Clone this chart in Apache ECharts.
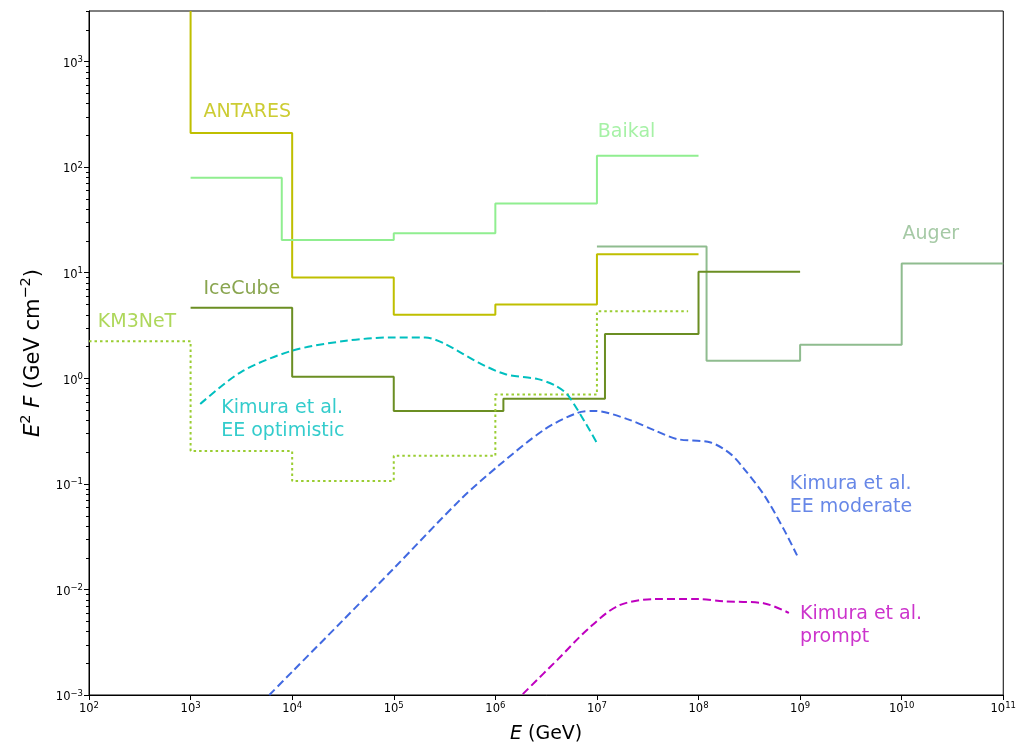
<!DOCTYPE html>
<html>
<head>
<meta charset="utf-8">
<script src="https://cdn.jsdelivr.net/npm/echarts@6/dist/echarts.min.js"></script>
<style>html,body{margin:0;padding:0;background:#fff}#c{width:1019px;height:749px}</style>
</head>
<body>
<div id="c"></div>
<script>
// ---------- data ----------
// Step-style upper limits: bin edges (GeV) and E^2 F values (GeV cm^-2)
const ANTARES_edges = [1e3, 1e4, 1e5, 1e6, 1e7, 1e8];
const ANTARES_vals  = [210, 9.0, 3.98, 5.0, 14.9];
const ANTARES_entry = 3000; // first limit runs off the top of the plot

const Baikal_edges = [1e3, 7.9e3, 1e5, 1e6, 1e7, 1e8];
const Baikal_vals  = [79, 20.3, 23.6, 45, 128];

const Auger_edges = [1e7, 1.2e8, 1e9, 1e10, 1e11];
const Auger_vals  = [17.7, 1.46, 2.07, 12.2];

const IceCube_edges = [1e3, 1e4, 1e5, 1.2e6, 1.2e7, 1e8, 1e9];
const IceCube_vals  = [4.65, 1.03, 0.49, 0.64, 2.62, 10.2];

const KM3NeT_edges = [1e2, 1e3, 1e4, 1e5, 1e6, 1e7, 7.9e7];
const KM3NeT_vals  = [2.24, 0.204, 0.106, 0.184, 0.70, 4.3];

// Model curves: log10(E/GeV) and E^2 F
const EEopt_logE = [3.095, 3.5, 4.0, 4.53, 4.98, 5.31, 5.51, 5.83, 6.10, 6.42, 6.59, 6.72, 7.01];
const EEopt_F    = [0.57, 1.15, 1.82, 2.26, 2.43, 2.43, 2.10, 1.41, 1.09, 0.98, 0.85, 0.68, 0.234];

const EEmod_logE = [3.775, 4.0, 4.5, 5.0, 5.67, 6.03, 6.49, 6.81, 6.98, 7.30, 7.57, 7.79, 8.12, 8.32, 8.45, 8.65, 8.84, 8.97];
const EEmod_F    = [0.001, 0.00166, 0.0051, 0.0158, 0.073, 0.148, 0.33, 0.47, 0.49, 0.41, 0.32, 0.265, 0.246, 0.19, 0.138, 0.077, 0.037, 0.021];

const prompt_logE = [6.27, 6.62, 6.91, 7.21, 7.57, 7.99, 8.25, 8.64, 8.89];
const prompt_F    = [0.00102, 0.0022, 0.0042, 0.0070, 0.0081, 0.0081, 0.0077, 0.0074, 0.0060];

// Annotations: text, anchor energy, anchor flux
const label_text = ['ANTARES', 'Baikal', 'Auger', 'IceCube', 'KM3NeT',
                    'Kimura et al.\nEE optimistic', 'Kimura et al.\nEE moderate', 'Kimura et al.\nprompt'];
const label_E    = [1.34e3, 1.02e7, 1.02e10, 1.34e3, 1.22e2, 2.0e3, 7.9e8, 1.0e9];
const label_F    = [331, 214, 23.2, 6.98, 3.4, 0.404, 0.0766, 0.00457];

// Axis ticks
const x_ticks = [1e2, 1e3, 1e4, 1e5, 1e6, 1e7, 1e8, 1e9, 1e10, 1e11];
const y_ticks = [1e-3, 1e-2, 1e-1, 1e0, 1e1, 1e2, 1e3];
const y_minor_mult = [2, 3, 4, 5, 6, 7, 8, 9];

// ---------- styling ----------
const C = {
  ANTARES: '#bfbf00', Baikal: '#90ee90', Auger: '#8fbc8f', IceCube: '#6b8e23',
  KM3NeT: '#9acd32', opt: '#00bfbf', mod: '#4169e1', prompt: '#bf00bf'
};
const label_colors = [C.ANTARES, C.Baikal, C.Auger, C.IceCube, C.KM3NeT, C.opt, C.mod, C.prompt];
const FONT = 'DejaVu Sans';
const Y_MAX = 3000, Y_MIN = 1e-3, X_MIN = 1e2, X_MAX = 1e11;

function steps(edges, vals, entry) {
  const pts = [];
  if (entry !== undefined) pts.push([edges[0], entry]);
  for (let i = 0; i < vals.length; i++) {
    pts.push([edges[i], vals[i]]);
    pts.push([edges[i + 1], vals[i]]);
  }
  return pts;
}
function curve(logE, F) { return logE.map((l, i) => [Math.pow(10, l), F[i]]); }

const yMinor = [];
y_ticks.forEach(t => y_minor_mult.forEach(m => { if (m * t <= Y_MAX) yMinor.push([X_MIN, m * t]); }));

function expLabel(v) {
  const e = Math.round(Math.log10(v));
  if (Math.abs(Math.log10(v) - e) > 1e-6) return '';
  return '{b|10}{s|' + String(e).replace('-', '\u2212') + '}';
}
const tickRich = {
  b: { fontFamily: FONT, fontSize: 11.5, color: '#000', lineHeight: 12, padding: [5, 0, 0, 0] },
  s: { fontFamily: FONT, fontSize: 8.5, color: '#000', lineHeight: 9, verticalAlign: 'top' }
};

function stepSeries(name, data, color, dash) {
  return {
    name, type: 'line', data, symbol: 'none', clip: true, animation: false,
    lineStyle: { color, width: 2, type: dash || 'solid' }, z: 3
  };
}
function curveSeries(name, data, color) {
  return {
    name, type: 'line', data, symbol: 'none', smooth: 0.3, clip: true, animation: false,
    lineStyle: { color, width: 2, type: [8, 4] }, z: 4
  };
}

const chart = echarts.init(document.getElementById('c'), null, { renderer: 'canvas' });
chart.setOption({
  backgroundColor: '#fff',
  animation: false,
  grid: { left: 89, right: 12, top: 11, bottom: 54, show: true, borderColor: '#000', borderWidth: 1, containLabel: false },
  xAxis: {
    type: 'log', logBase: 10, min: X_MIN, max: X_MAX,
    name: '{i|E} (GeV)', nameLocation: 'middle', nameGap: 30,
    nameTextStyle: { fontFamily: FONT, fontSize: 19, color: '#000',
      rich: { i: { fontFamily: FONT, fontSize: 19, fontStyle: 'italic', color: '#000' } } },
    axisLine: { show: true, lineStyle: { color: '#000', width: 1 } },
    axisTick: { show: true, inside: false, length: 5, lineStyle: { color: '#000' }, customValues: x_ticks },
    axisLabel: { margin: 6, formatter: expLabel, rich: tickRich, customValues: x_ticks },
    splitLine: { show: false }
  },
  yAxis: {
    type: 'log', logBase: 10, min: Y_MIN, max: Y_MAX,
    name: '{i|E}{s|2} {i|F} {r|(GeV cm}{s|\u22122}{r|)}', nameLocation: 'middle', nameGap: 49, nameRotate: 90,
    nameTextStyle: { fontFamily: FONT, fontSize: 21, color: '#000',
      rich: {
        i: { fontFamily: FONT, fontSize: 21, fontStyle: 'italic', color: '#000', lineHeight: 21, padding: [8, 0, 0, 0] },
        r: { fontFamily: FONT, fontSize: 21, color: '#000', lineHeight: 21, padding: [8, 0, 0, 0] },
        s: { fontFamily: FONT, fontSize: 14.5, color: '#000', lineHeight: 15, verticalAlign: 'top' }
      } },
    axisLine: { show: true, lineStyle: { color: '#000', width: 1 } },
    axisTick: { show: true, inside: false, length: 5, lineStyle: { color: '#000' }, customValues: y_ticks },
    axisLabel: { margin: 6, formatter: expLabel, rich: tickRich, customValues: y_ticks },
    splitLine: { show: false }
  },
  series: [
    stepSeries('ANTARES', steps(ANTARES_edges, ANTARES_vals, ANTARES_entry), C.ANTARES),
    stepSeries('Baikal', steps(Baikal_edges, Baikal_vals), C.Baikal),
    stepSeries('Auger', steps(Auger_edges, Auger_vals), C.Auger),
    stepSeries('IceCube', steps(IceCube_edges, IceCube_vals), C.IceCube),
    stepSeries('KM3NeT', steps(KM3NeT_edges, KM3NeT_vals), C.KM3NeT, [2.5, 3]),
    curveSeries('EE optimistic', curve(EEopt_logE, EEopt_F), C.opt),
    curveSeries('EE moderate', curve(EEmod_logE, EEmod_F), C.mod),
    curveSeries('prompt', curve(prompt_logE, prompt_F), C.prompt),
    {
      name: 'minor ticks', type: 'custom', data: yMinor, clip: false, silent: true, animation: false, z: 10,
      renderItem: function (params, api) {
        const p = api.coord([api.value(0), api.value(1)]);
        return {
          type: 'line',
          shape: { x1: p[0] - 3, y1: Math.round(p[1]) + 0.5, x2: p[0], y2: Math.round(p[1]) + 0.5 },
          style: { stroke: '#000', lineWidth: 1 }
        };
      }
    },
    {
      name: 'labels', type: 'scatter', symbolSize: 0, animation: false, silent: true, z: 6,
      data: label_text.map((t, i) => ({
        value: [label_E[i], label_F[i]],
        label: {
          show: true, formatter: t, position: 'right', distance: 0, align: 'left', verticalAlign: 'middle',
          fontFamily: FONT, fontSize: 19, lineHeight: 23, color: label_colors[i]
        }
      }))
    }
  ]
});
</script>
</body>
</html>
